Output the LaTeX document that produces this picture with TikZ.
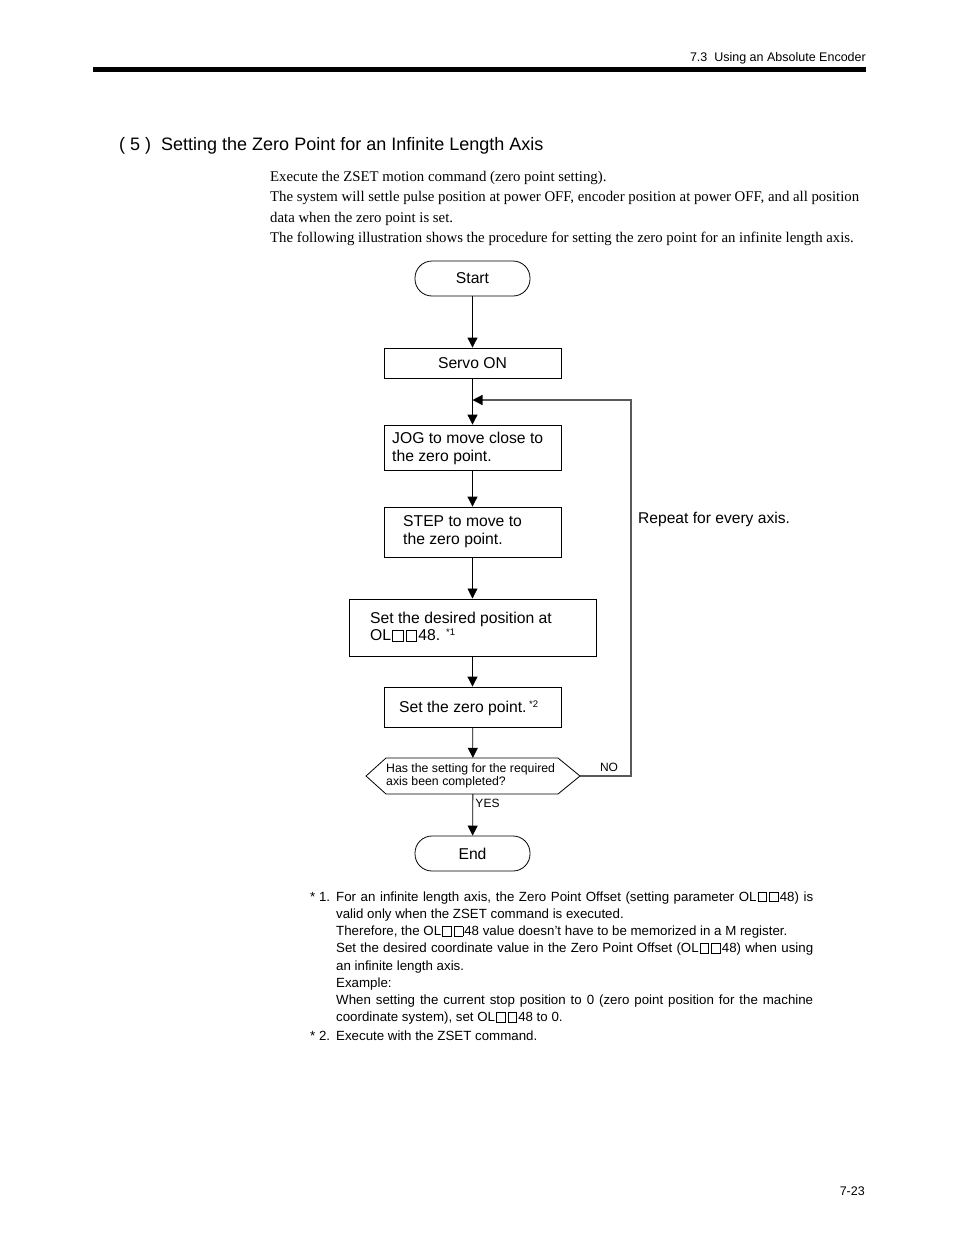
\documentclass[tikz,border=0pt]{standalone}
\usepackage{fontspec}
\setmainfont{Liberation Serif}
\setsansfont{Liberation Sans}
\usetikzlibrary{arrows.meta}
\newcommand{\sq}{\kern0.07em{\setlength{\fboxsep}{0pt}\setlength{\fboxrule}{0.065em}\fbox{\rule{0pt}{0.64em}\rule{0.6em}{0pt}}}\kern0.07em}
\begin{document}
\begin{tikzpicture}[x=1pt,y=-1pt,
  box/.style={draw,line width=0.8pt,inner sep=0pt},
  term/.style={draw,line width=0.8pt,rounded corners=17pt,minimum width=115pt,minimum height=35pt,inner sep=0pt,font=\sffamily\fontsize{15.7}{18}\selectfont},
  ftxt/.style={font=\sffamily\fontsize{15.7}{18}\selectfont,inner sep=0pt,align=left},
  arr/.style={line width=0.8pt,-{Triangle[length=10pt,width=10pt]}},
  loopl/.style={line width=1.3pt,draw=black!65},
  note/.style={font=\sffamily\fontsize{13.3}{17}\selectfont,inner sep=0pt,anchor=base west},
  para/.style={font=\fontsize{14.8}{17}\selectfont,inner sep=0pt,anchor=base west}]
\useasboundingbox (0,0) rectangle (954,1235);
% header
\node[font=\sffamily\fontsize{12.5}{15}\selectfont,inner sep=0pt,anchor=base east] (hdr) at (866,61) {7.3\ \ Using an Absolute Encoder};
\fill (93,67) rectangle (866,72);
% title
\node[font=\sffamily\fontsize{18}{20}\selectfont,inner sep=0pt,anchor=base west] (title) at (119,150) {( 5 )\ \ Setting the Zero Point for an Infinite Length Axis};
% paragraph
\node[para] (p1) at (270,181) {Execute the ZSET motion command (zero point setting).};
\node[para] (p2) at (270,201) {\makebox[589pt][s]{The system will settle pulse position at power OFF, encoder position at power OFF, and all position}};
\node[para] (p3) at (270,222) {data when the zero point is set.};
\node[para] (p4) at (270,242) {The following illustration shows the procedure for setting the zero point for an infinite length axis.};
% flowchart
\node[term] (start) at (472.5,278.5) {Start};
\node[box,minimum width=177pt,minimum height=30pt,font=\sffamily\fontsize{15.7}{18}\selectfont] (servo) at (472.5,363) {Servo ON};
\node[box,minimum width=177pt,minimum height=45pt] (jog) at (472.5,447.5) {};
\node[ftxt,anchor=west] (jogt) at (392,448.5) {JOG to move close to\\the zero point.};
\node[box,minimum width=177pt,minimum height=50pt] (step) at (472.5,532) {};
\node[ftxt,anchor=west] (stept) at (403,531.5) {STEP to move to\\the zero point.};
\node[box,line width=1pt,minimum width=247pt,minimum height=57pt] (des) at (472.5,627.5) {};
\node[ftxt,anchor=west,font=\sffamily\fontsize{15.7}{17.5}\selectfont] (dest) at (370,627) {Set the desired position at\\OL\sq\sq48. \textsuperscript{\fontsize{9.5}{9.5}\selectfont *1}};
\node[box,minimum width=177pt,minimum height=40pt] (zero) at (472.5,707) {};
\node[ftxt,anchor=west] (zerot) at (399,708) {Set the zero point.\,\textsuperscript{\fontsize{9.5}{9.5}\selectfont *2}};
\node[minimum width=214pt,minimum height=36pt,inner sep=0pt] (dec) at (473,776) {};
\draw[line width=0.8pt] (366,776) -- (386,758) -- (558,758) -- (580,776) -- (558,794) -- (386,794) -- cycle;
\node[anchor=west,inner sep=0pt,align=left,font=\sffamily\fontsize{12.3}{13.5}\selectfont] (dect) at (386,776) {Has the setting for the required\\axis been completed?};
\node[term] (end) at (472.5,853.5) {End};
% connectors
\draw[arr] (start) -- (servo);
\coordinate (loopin) at (472.5,400);
\draw[arr] (servo) -- (jog);
\draw[arr] (jog) -- (step);
\draw[arr] (step) -- (des);
\draw[arr] (des) -- (zero);
\draw[arr] (zero) -- (dec);
\draw[arr] (dec) -- (end);
\coordinate (rc) at (631,776);
\draw[loopl,-{Triangle[length=10pt,width=10pt,color=black]}] (dec.east) -- (rc) |- (loopin);
\node[font=\sffamily\fontsize{12}{14}\selectfont,inner sep=0pt] (no) at (609,767) {NO};
\node[font=\sffamily\fontsize{12}{14}\selectfont,inner sep=0pt] (yes) at (487.5,803.5) {YES};
\node[font=\sffamily\fontsize{15.6}{18}\selectfont,inner sep=0pt,anchor=west] (rep) at (638,519.5) {Repeat for every axis.};
% footnotes
\node[note] (n1) at (310,901) {* 1.};
\node[note] (l1) at (336,901) {\makebox[477pt][s]{For an infinite length axis, the Zero Point Offset (setting parameter OL\sq\sq48) is}};
\node[note] (l2) at (336,918) {valid only when the ZSET command is executed.};
\node[note] (l3) at (336,935.5) {Therefore, the OL\sq\sq48 value doesn’t have to be memorized in a M register.};
\node[note] (l4) at (336,952.5) {\makebox[477pt][s]{Set the desired coordinate value in the Zero Point Offset (OL\sq\sq48) when using}};
\node[note] (l5) at (336,970) {an infinite length axis.};
\node[note] (l6) at (336,987) {Example:};
\node[note] (l7) at (336,1004.5) {\makebox[477pt][s]{When setting the current stop position to 0 (zero point position for the machine}};
\node[note] (l8) at (336,1021.5) {coordinate system), set OL\sq\sq48 to 0.};
\node[note] (n2) at (310,1040.5) {* 2.};
\node[note] (l9) at (336,1040.5) {Execute with the ZSET command.};
% page number
\node[font=\sffamily\fontsize{12.5}{15}\selectfont,inner sep=0pt,anchor=base east] (pg) at (865,1195) {7-23};
\end{tikzpicture}
\end{document}
